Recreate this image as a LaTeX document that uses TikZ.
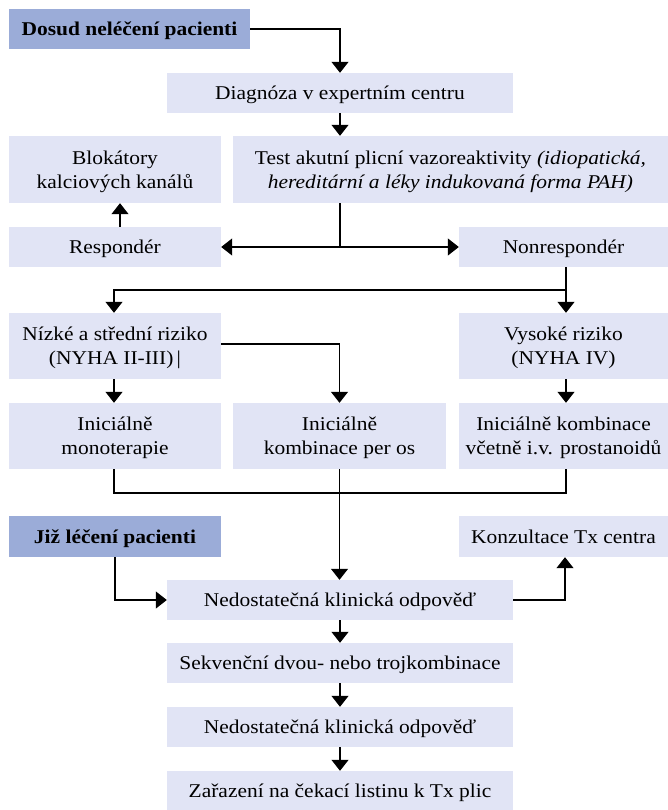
\documentclass[tikz,border=0pt]{standalone}
\usepackage{fontspec}
\setmainfont[FakeStretch=1.1]{Liberation Serif}
\usetikzlibrary{arrows.meta}
\definecolor{boxlight}{RGB}{225,228,245}
\definecolor{boxdark}{RGB}{155,172,216}
\begin{document}
\begin{tikzpicture}[x=1pt,y=-1pt,
  box/.style 2 args={fill=boxlight, inner sep=0pt, align=center, minimum width=#1pt, minimum height=#2pt, text depth=0pt, font=\fontsize{19.5}{24}\selectfont},
  dbox/.style 2 args={box={#1}{#2}, fill=boxdark, font=\fontsize{19.5}{24}\selectfont\bfseries},
  conn/.style={line width=1.2pt, -{Triangle[width=17pt,length=11pt]}},
  plain/.style={line width=1.2pt}]
\useasboundingbox (0,0) rectangle (668,810);
% nodes
\node[dbox={241}{40}] (dosud) at (129.5,29) {Dosud neléčení pacienti};
\node[box={346}{40}] (diag) at (340,93) {Diagnóza v expertním centru};
\node[box={212}{67}] (blok) at (115,169.5) {Blokátory\\kalciových kanálů};
\node[box={435}{67}] (test) at (450.5,169.5) {Test akutní plicní vazoreaktivity \textit{(idiopatická,}\\\textit{hereditární a léky indukovaná forma PAH)}};
\node[box={212}{40}] (resp) at (115,247) {Respondér};
\node[box={209}{40}] (nonresp) at (563.5,247) {Nonrespondér};
\node[box={212}{66}] (nizke) at (115,346) {Nízké a střední riziko\\(NYHA II-III)\,|};
\node[box={209}{66}] (vysoke) at (563.5,346) {Vysoké riziko\\(NYHA IV)};
\node[box={212}{66}] (mono) at (115,436) {Iniciálně\\monoterapie};
\node[box={213}{66}] (peros) at (339.5,436) {Iniciálně\\kombinace per os};
\node[box={209}{66}] (vcetne) at (563.5,436) {Iniciálně kombinace\\včetně i.v. prostanoidů};
\node[dbox={212}{41}] (jiz) at (115,536.5) {Již léčení pacienti};
\node[box={209}{41}] (konz) at (563.5,536.5) {Konzultace Tx centra};
\node[box={346}{40}] (ned1) at (340,600) {Nedostatečná klinická odpověď};
\node[box={346}{40}] (sekv) at (340,663) {Sekvenční dvou- nebo trojkombinace};
\node[box={346}{40}] (ned2) at (340,727) {Nedostatečná klinická odpověď};
\node[box={346}{39}] (zar) at (340,790.5) {Zařazení na čekací listinu k Tx plic};
% junctions
\coordinate (j1) at (340,247);
\coordinate (j2) at (566,290);
\coordinate (j3) at (114,493);
% connectors
\draw[conn] (dosud.east) -| (diag.north);
\draw[conn] (diag.south) -- (diag.south |- test.north);
\draw[plain] (diag.south |- test.south) -- (j1);
\draw[conn] (j1) -- (resp.east);
\draw[conn] (j1) -- (nonresp.west);
\draw[conn] ([xshift=5pt]resp.north) -- ([xshift=5pt]blok.south);
\draw[plain] ([xshift=2.5pt]nonresp.south) -- (j2);
\draw[conn] (j2) -- ([xshift=2.5pt]vysoke.north);
\draw[conn] (j2) -| ([xshift=-1pt]nizke.north);
\draw[conn] ([yshift=2pt]nizke.east) -| (peros.north);
\draw[conn] ([xshift=-1pt]nizke.south) -- ([xshift=-1pt]mono.north);
\draw[conn] ([xshift=2.5pt]vysoke.south) -- ([xshift=2.5pt]vcetne.north);
\draw[plain] ([xshift=-1pt]mono.south) -- (j3) -| ([xshift=2.5pt]vcetne.south);
\draw[conn] (peros.south) -- (peros.south |- ned1.north);
\draw[conn] (jiz.south) |- (ned1.west);
\draw[conn] (ned1.east) -| ([xshift=1.5pt]konz.south);
\draw[conn] (ned1.south) -- (sekv.north);
\draw[conn] (sekv.south) -- (ned2.north);
\draw[conn] (ned2.south) -- (zar.north);
\end{tikzpicture}
\end{document}
